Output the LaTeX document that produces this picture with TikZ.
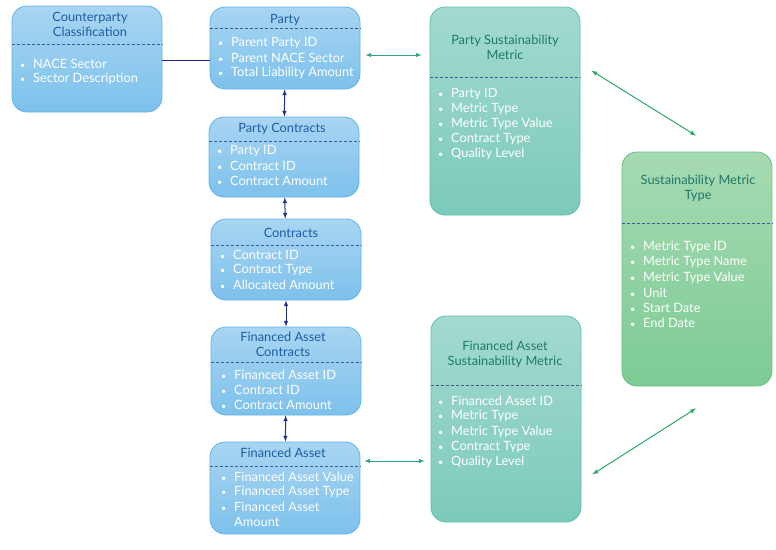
\documentclass[tikz,border=0pt]{standalone}
\usepackage{fontspec}
\setmainfont{Lato}
\definecolor{bluetop}{HTML}{A8D5F2}
\definecolor{bluebot}{HTML}{7DC1EC}
\definecolor{blueline}{HTML}{62B4E8}
\definecolor{bluehead}{HTML}{1F5CA6}
\definecolor{tealtop}{HTML}{A3DACF}
\definecolor{tealbot}{HTML}{7CCABB}
\definecolor{tealline}{HTML}{5DBFAE}
\definecolor{tealhead}{HTML}{1E7A6B}
\definecolor{greentop}{HTML}{A6DAB2}
\definecolor{greenbot}{HTML}{7DCB94}
\definecolor{greenline}{HTML}{68C088}
\definecolor{sepcol}{HTML}{3F5C9A}
\definecolor{navy}{HTML}{232D8C}
\definecolor{tealarrow}{HTML}{2BA38C}
\definecolor{greenarrow}{HTML}{2AA867}
\newcommand{\bul}{\makebox[13pt][l]{\small\textbullet}}
\begin{document}
\begin{tikzpicture}[x=1pt, y=-1pt, >=latex]
			\tikzstyle{entity}  = [rectangle, rounded corners=15pt, minimum width=150pt, inner sep=0pt, line width=0.8pt]
			\tikzstyle{tablebox}  = [entity, draw=blueline, top color=bluetop, bottom color=bluebot]
			\tikzstyle{metricbox} = [entity, draw=tealline, top color=tealtop, bottom color=tealbot]
			\tikzstyle{typebox}   = [entity, draw=greenline, top color=greentop, bottom color=greenbot]
			\tikzstyle{head}  = [align=center, inner sep=0pt, font=\fontsize{12.8}{15}\selectfont]
			\tikzstyle{field} = [anchor=west, inner sep=0pt, text=white, font=\fontsize{12.8}{15}\selectfont]
			\tikzstyle{sep}   = [sepcol, dash pattern=on 3pt off 2pt, line width=0.6pt]

			\useasboundingbox (0,0) rectangle (776,549);

			% entities
			\node[tablebox, minimum height=106pt] (cc) at (87,59) {};
			\node[tablebox, minimum height=82pt] (party) at (285,48) {};
			\node[tablebox, minimum height=80pt] (pc) at (284,157) {};
			\node[tablebox, minimum height=81pt] (con) at (286,259.5) {};
			\node[tablebox, minimum height=88pt] (fac) at (286,371) {};
			\node[tablebox, minimum height=92pt] (fa) at (285,488) {};
			\node[metricbox, minimum height=208pt] (psm) at (505,111) {};
			\node[metricbox, minimum height=206pt] (fasm) at (506,419) {};
			\node[typebox, minimum height=234pt] (smt) at (697,269) {};

			% titles
			\foreach \name/\x/\y/\text in {ccT/90/24.5/{Counterparty\\Classification}, partyT/285/20/Party,
					pcT/282/129/{Party Contracts}, conT/291/233/Contracts,
					facT/283/344.5/{Financed Asset\\Contracts}, faT/283/453/{Financed Asset}}
				\node[head, text=bluehead] (\name) at (\x,\y) {\text};
			\foreach \name/\x/\y/\text in {psmT/505/47.5/{Party Sustainability\\Metric},
					fasmT/505/354.5/{Financed Asset\\Sustainability Metric}, smtT/698/188.5/{Sustainability Metric\\Type}}
				\node[head, text=tealhead] (\name) at (\x,\y) {\text};

			% separators
			\foreach \ent/\y in {cc/44, party/28, pc/141, con/245, fac/362, fa/466, psm/77, fasm/385, smt/223}
				\draw[sep] (\ent.west |- 0,\y) -- (\ent.east |- 0,\y);

			% fields
			\foreach \f [count=\i] in {NACE Sector, Sector Description}
				\node[field] at (20, 49+15*\i) {\bul\f};
			\foreach \f [count=\i] in {Parent Party ID, Parent NACE Sector, Total Liability Amount}
				\node[field] at (218, 28+15*\i) {\bul\f};
			\foreach \f [count=\i] in {Party ID, Contract ID, Contract Amount}
				\node[field] at (217, 136+15*\i) {\bul\f};
			\foreach \f [count=\i] in {Contract ID, Contract Type, Allocated Amount}
				\node[field] at (220, 240+15*\i) {\bul\f};
			\foreach \f [count=\i] in {Financed Asset ID, Contract ID, Contract Amount}
				\node[field] at (221, 360+15*\i) {\bul\f};
			\foreach \f [count=\i] in {Financed Asset Value, Financed Asset Type, Financed Asset}
				\node[field] at (221, 462+15*\i) {\bul\f};
			\node[field] at (234, 522) {Amount};
			\foreach \f [count=\i] in {Party ID, Metric Type, Metric Type Value, Contract Type, Quality Level}
				\node[field] at (438, 79+15*\i) {\bul\f};
			\foreach \f [count=\i] in {Financed Asset ID, Metric Type, Metric Type Value, Contract Type, Quality Level}
				\node[field] at (438, 386+15.2*\i) {\bul\f};
			\foreach \f [count=\i] in {Metric Type ID, Metric Type Name, Metric Type Value, Unit, Start Date, End Date}
				\node[field] at (630, 232+15.2*\i) {\bul\f};

			% links
			\draw[navy, line width=1pt] (cc.east |- 0,60) -- (party.west |- 0,60);
			\foreach \from/\to in {party/pc, pc/con, con/fac, fac/fa}
				\path[<->, navy, line width=1pt] (\from) edge (\to);
			\draw[<->, tealarrow, line width=1pt] ([shift={(5,7)}]party.east) -- ([shift={(-8,7)}]party.east -| psm.west);
			\draw[<->, tealarrow, line width=1pt] ([shift={(4,-27)}]fa.east) -- ([shift={(-6,-27)}]fa.east -| fasm.west);
			\draw[<->, greenarrow, line width=1pt] ([shift={(11,64)}]psm.north east) -- ([shift={(-1,-16)}]smt.north);
			\draw[<->, greenarrow, line width=1pt] ([shift={(11,-48)}]fasm.south east) -- ([shift={(-1,22)}]smt.south);

		\end{tikzpicture}
\end{document}
